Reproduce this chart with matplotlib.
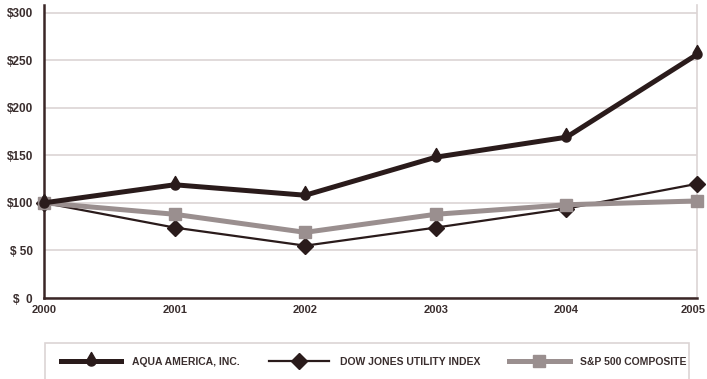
import numpy as np
import matplotlib
matplotlib.use("Agg")
import matplotlib.pyplot as plt
import matplotlib.transforms as mtransforms
from matplotlib.path import Path
from matplotlib.patches import Rectangle

years = [2000, 2001, 2002, 2003, 2004, 2005]
aqua = [100, 119, 108, 148, 169, 256]
dow = [100, 74, 55, 74, 94, 120]
sp500 = [100, 88, 69, 88, 98, 102]
yticks = [0, 50, 100, 150, 200, 250, 300]
ylabels = ["$  0", "$ 50", "$100", "$150", "$200", "$250", "$300"]

dark = "#2a1b1b"
grey = "#9a8f8f"
gridc = "#dcd4d4"
txtc = "#3a2e2e"

plt.rcParams["font.family"] = ["Liberation Sans Narrow", "Liberation Sans", "DejaVu Sans"]

# teardrop marker: round bottom, pointed top (tangent lines from tip to circle)
ang = np.radians(np.linspace(30, -210, 40))
verts = [(0, 2.0)] + [(np.cos(a), np.sin(a)) for a in ang] + [(0, 2.0)]
drop = Path(verts, closed=True)

fig = plt.figure(figsize=(7.07, 3.79), dpi=100)
ax = fig.add_axes([0.0622, 0.2137, 0.9238, 0.7733])

ax.plot(years, dow, color=dark, lw=1.6, marker="D", ms=8.5, mfc=dark, mec=dark, zorder=3,
        clip_on=False, label="DOW JONES UTILITY INDEX")
ax.plot(years, sp500, color=grey, lw=3.6, marker="s", ms=8, mfc=grey, mec=grey, zorder=4,
        clip_on=False, label="S&P 500 COMPOSITE")
ax.plot(years, aqua, color=dark, lw=3.6, marker=drop, ms=13, mfc=dark, mec=dark, zorder=5,
        clip_on=False, label="AQUA AMERICA, INC.")

ax.set_xlim(2000, 2005)
ax.set_ylim(0, 308)
ax.set_xticks(years)
ax.set_xticklabels([str(y) for y in years], fontsize=8, fontweight="bold", color=txtc)
ax.set_yticks(yticks)
ax.set_yticklabels(ylabels, fontsize=8.5, fontweight="bold", color=txtc)
ax.tick_params(length=0, pad=8)
ax.tick_params(axis="x", pad=5)
ax.yaxis.grid(True, color=gridc, lw=1.2)
ax.set_axisbelow(True)
ax.spines["top"].set_visible(False)
ax.spines["right"].set_color(gridc)
ax.spines["right"].set_linewidth(1.2)
ax.spines["left"].set_color("#3a2626")
ax.spines["left"].set_linewidth(1.8)
ax.spines["bottom"].set_color("#3a2626")
ax.spines["bottom"].set_linewidth(1.8)

# nudge the last year label so it stays inside the picture
last = ax.get_xticklabels()[-1]
last.set_transform(last.get_transform() +
                   mtransforms.ScaledTranslation(-4 / 100, 0, fig.dpi_scale_trans))

# legend box
fig.patches.append(Rectangle((45 / 707, -0.02), 644 / 707, 36 / 379 + 0.02,
                             transform=fig.transFigure, fill=False,
                             edgecolor=gridc, lw=1.2))

h, l = ax.get_legend_handles_labels()
order = [2, 0, 1]
leg = fig.legend([h[i] for i in order], [l[i] for i in order], loc="center left",
                 bbox_to_anchor=(61 / 707, 1 - 362 / 379), ncol=3,
                 frameon=False, handlelength=5.8, handletextpad=1.0, columnspacing=2.8,
                 borderpad=0, borderaxespad=0,
                 prop={"size": 7.5, "weight": "bold"})
for t in leg.get_texts():
    t.set_color(txtc)

plt.savefig("out.png", dpi=100)
